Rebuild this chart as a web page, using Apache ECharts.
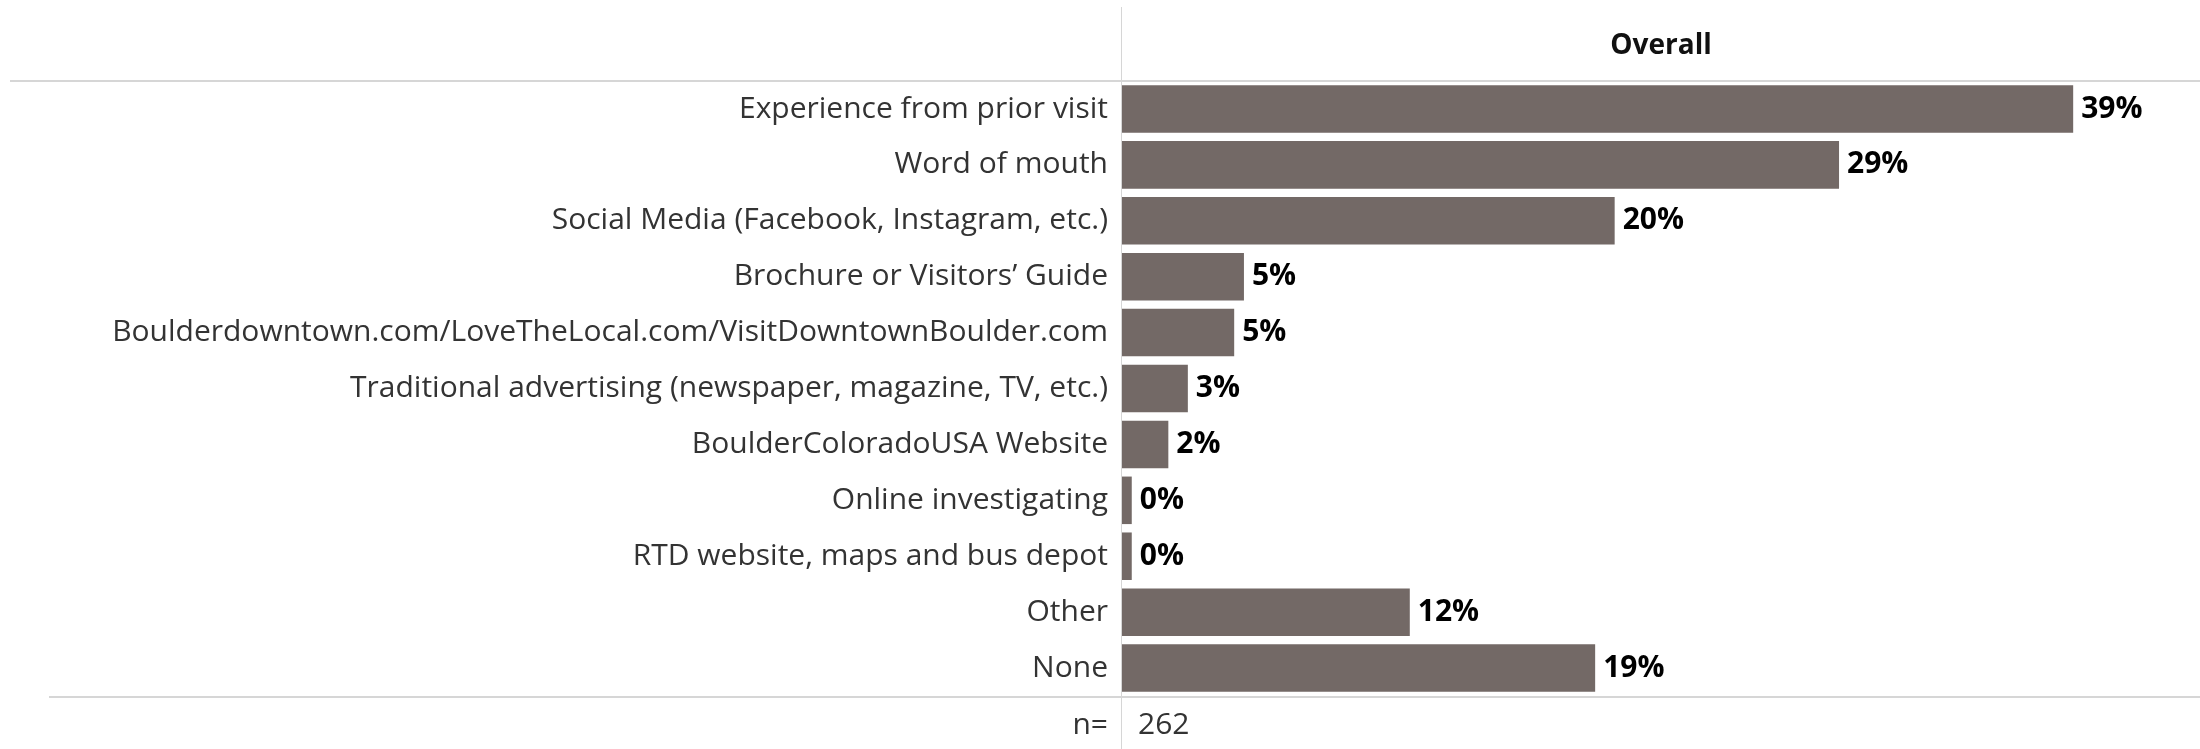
<!DOCTYPE html>
<html>
<head>
<meta charset="utf-8">
<title>Overall</title>
<script src="https://cdn.jsdelivr.net/npm/echarts@6/dist/echarts.min.js"></script>
<style>
  html, body { margin: 0; padding: 0; background: #ffffff; }
  #chart { width: 2200px; height: 749px; }
</style>
</head>
<body>
<div id="chart"></div>
<script>
// Sources of information, share of respondents (%)
const categories = [
  'Experience from prior visit',
  'Word of mouth',
  'Social Media (Facebook, Instagram, etc.)',
  'Brochure or Visitors\u2019 Guide',
  'Boulderdowntown.com/LoveTheLocal.com/VisitDowntownBoulder.com',
  'Traditional advertising (newspaper, magazine, TV, etc.)',
  'BoulderColoradoUSA Website',
  'Online investigating',
  'RTD website, maps and bus depot',
  'Other',
  'None'
];
const overallValues = [39.0, 29.4, 20.2, 5.0, 4.6, 2.7, 1.9, 0.4, 0.4, 11.8, 19.4];
const columnTitle = 'Overall';
const sampleLabel = 'n=';
const sampleSize = 262;

const FONT = '"Open Sans", "Noto Sans", sans-serif';
const GRID_LEFT = 1122;
const GRID_TOP = 81;
const GRID_BOTTOM = 53;
const LINE = '#d6d6d6';

const chart = echarts.init(document.getElementById('chart'), null, { renderer: 'canvas' });

chart.setOption({
  backgroundColor: '#ffffff',
  animation: false,
  grid: { left: GRID_LEFT, right: 0, top: GRID_TOP, bottom: GRID_BOTTOM, containLabel: false },
  xAxis: {
    type: 'value',
    position: 'top',
    min: 0,
    max: 44.2,
    name: columnTitle,
    nameLocation: 'middle',
    nameGap: 21,
    nameTextStyle: { fontFamily: FONT, fontWeight: 'bold', fontSize: 28, color: '#111' },
    axisLine: { show: false },
    axisTick: { show: false },
    axisLabel: { show: false },
    splitLine: { show: false }
  },
  yAxis: {
    type: 'category',
    data: categories,
    inverse: true,
    axisLine: { show: false },
    axisTick: { show: false },
    splitLine: { show: false },
    axisLabel: {
      margin: 14,
      fontFamily: FONT,
      fontSize: 30,
      color: '#333333',
      align: 'right'
    }
  },
  series: [{
    type: 'bar',
    data: overallValues,
    barCategoryGap: '15%',
    itemStyle: { color: '#736966' },
    label: {
      show: true,
      position: 'right',
      distance: 8,
      fontFamily: FONT,
      fontWeight: 'bold',
      fontSize: 30,
      color: '#000000',
      formatter: p => Math.round(p.value) + '%'
    }
  }],
  graphic: [
    // header rule
    { type: 'line', shape: { x1: 10, y1: 81, x2: 2200, y2: 81 }, style: { stroke: LINE, lineWidth: 2 } },
    // footer rule above the sample size row
    { type: 'line', shape: { x1: 49, y1: 697, x2: 2200, y2: 697 }, style: { stroke: LINE, lineWidth: 2 } },
    // column divider
    { type: 'line', shape: { x1: 1121.5, y1: 7, x2: 1121.5, y2: 749 }, style: { stroke: LINE, lineWidth: 1 } },
    // sample size row
    { type: 'text', x: 1108, y: 725, style: { text: sampleLabel, fontFamily: FONT, fontSize: 30, fill: '#333333', align: 'right', verticalAlign: 'middle' } },
    { type: 'text', x: 1138, y: 725, style: { text: String(sampleSize), fontFamily: FONT, fontSize: 30, fill: '#333333', align: 'left', verticalAlign: 'middle' } }
  ]
});
</script>
</body>
</html>
